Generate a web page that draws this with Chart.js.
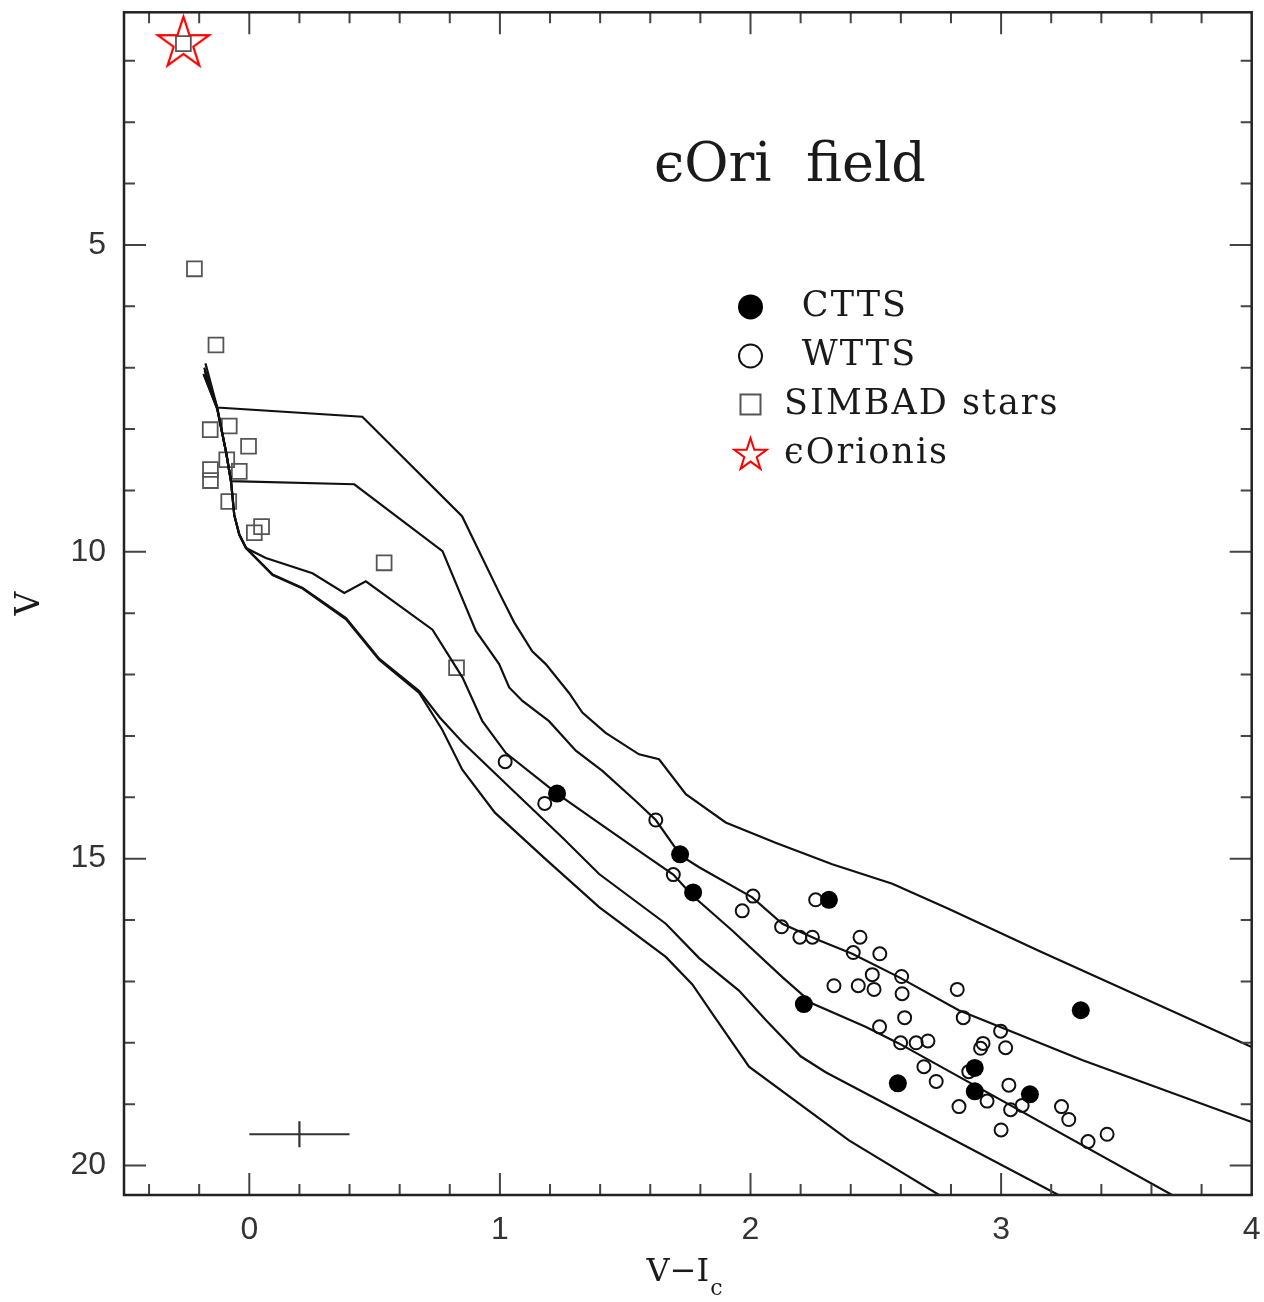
<!DOCTYPE html>
<html>
<head>
<meta charset="utf-8">
<title>eps Ori field CMD</title>
<script src="https://cdn.jsdelivr.net/npm/chart.js@4.4.1/dist/chart.umd.min.js"></script>
<style>
  html, body { margin: 0; padding: 0; background: #fff; }
  #cmd { display: block; }
</style>
</head>
<body>
<canvas id="cmd" width="1264" height="1302"></canvas>
<script>
// --- data (V-Ic colour, V magnitude) ---
const cttsVI = [1.228, 1.719, 1.771, 2.313, 2.213, 3.318, 2.895, 2.588, 2.895, 3.115];
const cttsV  = [13.94, 14.93, 15.55, 15.67, 17.37, 17.47, 18.41, 18.66, 18.79, 18.84];

const wttsVI = [1.021, 1.179, 1.622, 1.692, 2.010, 1.967, 2.124, 2.260, 2.197, 2.247,
                2.437, 2.410, 2.516, 2.486, 2.603, 2.333, 2.430, 2.493, 2.605, 2.615,
                2.515, 2.599, 2.661, 2.708, 2.825, 2.849, 2.998, 2.928, 2.918, 3.018,
                2.692, 2.741, 2.871, 3.031, 2.944, 2.832, 3.038, 3.084, 3.241, 3.270,
                3.000, 3.347, 3.423];
const wttsV  = [13.42, 14.10, 14.37, 15.26, 15.61, 15.85, 16.11, 15.67, 16.28, 16.28,
                16.28, 16.53, 16.55, 16.89, 16.92, 17.07, 17.07, 17.13, 17.20, 17.59,
                17.74, 18.00, 18.00, 17.97, 17.13, 17.59, 17.81, 18.01, 18.09, 18.08,
                18.39, 18.63, 18.47, 18.69, 18.95, 19.04, 19.09, 19.02, 19.04, 19.25,
                19.42, 19.61, 19.49];

const simbadVI = [-0.263, -0.219, -0.133, -0.156, -0.080, -0.003, -0.090, -0.040, -0.155, -0.155,
                  -0.082, 0.049, 0.020, 0.538, 0.827];
const simbadV  = [1.72, 5.39, 6.63, 8.01, 7.95, 8.28, 8.50, 8.69, 8.66, 8.84,
                  9.18, 9.59, 9.69, 10.18, 11.89];

const epsOriVI = [-0.263];
const epsOriV  = [1.72];

// isochrones, youngest first
const iso1VI = [-0.175, -0.128, 0.451, 0.849, 1.0, 1.057, 1.129, 1.183, 1.276, 1.329, 1.422,
                1.555, 1.635, 1.742, 1.901, 2.100, 2.326, 2.566, 2.792, 3.15, 4.0];
const iso1V  = [6.93, 7.65, 7.80, 9.42, 10.69, 11.15, 11.62, 11.83, 12.30, 12.62, 12.95,
                13.30, 13.38, 13.95, 14.41, 14.74, 15.09, 15.41, 15.82, 16.50, 18.07];

const iso2VI = [-0.18, -0.128, -0.093, -0.073, 0.419, 0.771, 0.904, 0.997, 1.037, 1.090, 1.196,
                1.303, 1.409, 1.542, 1.622, 1.722, 1.795, 2.007, 2.127, 2.273, 2.406, 2.592,
                2.831, 3.323, 4.0];
const iso2V  = [7.0, 7.65, 8.37, 8.85, 8.90, 9.99, 11.29, 11.83, 12.21, 12.43, 12.76,
                13.24, 13.57, 14.06, 14.37, 14.95, 15.14, 15.63, 16.06, 16.33, 16.55, 16.93,
                17.47, 18.28, 19.29];

const iso3VI = [-0.178, -0.128, -0.093, -0.073, -0.06, -0.04, -0.013, 0.066, 0.252, 0.379, 0.465,
                0.731, 0.851, 0.93, 1.024, 1.228, 1.396, 1.582, 1.692, 1.768, 1.927, 2.127,
                2.247, 2.459, 2.592, 3.696];
const iso3V  = [7.05, 7.66, 8.37, 8.85, 9.40, 9.72, 9.94, 10.10, 10.35, 10.67, 10.48,
                11.27, 12.05, 12.76, 13.28, 13.94, 14.42, 14.95, 15.26, 15.6, 16.17, 16.93,
                17.36, 17.74, 18.01, 20.51];

const iso4VI = [-0.183, -0.128, -0.093, -0.073, -0.06, -0.04, -0.013, 0.093, 0.213, 0.386, 0.518,
                0.678, 0.76, 0.85, 1.05, 1.25, 1.396, 1.662, 1.795, 1.954, 2.061, 2.20, 2.30, 3.243];
const iso4V  = [7.1, 7.67, 8.37, 8.85, 9.40, 9.72, 9.94, 10.37, 10.59, 11.08, 11.74,
                12.27, 12.7, 13.1, 13.88, 14.66, 15.25, 16.06, 16.62, 17.15, 17.63, 18.22, 18.48, 20.51];

const iso5VI = [-0.18, -0.128, -0.093, -0.073, -0.06, -0.04, -0.013, 0.093, 0.213, 0.386, 0.518,
                0.678, 0.77, 0.85, 0.98, 1.18, 1.396, 1.662, 1.768, 1.86, 1.994, 2.393, 2.765];
const iso5V  = [7.12, 7.67, 8.37, 8.85, 9.40, 9.72, 9.94, 10.38, 10.6, 11.1, 11.76,
                12.3, 12.9, 13.55, 14.25, 15.0, 15.79, 16.6, 17.05, 17.6, 18.39, 19.59, 20.51];

// typical error bar
const errVI = [0, 0.4];
const errV  = [19.49, 19.49];
const errCentreVI = [0.2, 0.2];
const errCentreV  = [19.28, 19.70];

const xTickLabels = [0, 1, 2, 3, 4];
const yTickLabels = [5, 10, 15, 20];

const legendLabels = ['CTTS', 'WTTS', 'SIMBAD stars', 'ϵOrionis'];
const titleText = 'ϵOri  field';

// helpers
function pts(xs, ys) {
  return xs.map((v, i) => ({ x: v, y: ys[i] }));
}

function starPath(g, cx, cy, R) {
  g.beginPath();
  for (let i = 0; i < 10; i++) {
    const r = i % 2 ? R * 0.382 : R;
    const a = -Math.PI / 2 + i * Math.PI / 5;
    g.lineTo(cx + r * Math.cos(a), cy + r * Math.sin(a));
  }
  g.closePath();
}

function starCanvas(R, color, lw) {
  const c = document.createElement('canvas');
  const s = Math.ceil(2 * R + 2 * lw + 4);
  c.width = s; c.height = s;
  const g = c.getContext('2d');
  starPath(g, s / 2, s / 2, R);
  g.strokeStyle = color;
  g.lineWidth = lw;
  g.stroke();
  return c;
}

// axis boxes are sized by hand so the plot frame lands where the original is
function fixBox(size) {
  return s => {
    if (s.isHorizontal()) s.height = size; else s.width = size;
    s.paddingTop = 0; s.paddingBottom = 0; s.paddingLeft = 0; s.paddingRight = 0;
  };
}

const lineStyle = {
  showLine: true, pointRadius: 0, borderColor: '#111', borderWidth: 2.2,
  fill: false, tension: 0, order: 4
};

// inward ticks on all four sides, plus the frame
const framePlugin = {
  id: 'frame',
  afterDraw(chart) {
    const { ctx, chartArea: a, scales: { x, y } } = chart;
    ctx.save();
    ctx.strokeStyle = '#444';
    ctx.lineWidth = 2;
    ctx.beginPath();
    for (let k = -2; k <= 19; k++) {
      const v = k * 0.2;
      const len = k % 5 === 0 ? 22 : 11;
      const px = x.getPixelForValue(v);
      ctx.moveTo(px, a.bottom); ctx.lineTo(px, a.bottom - len);
      ctx.moveTo(px, a.top); ctx.lineTo(px, a.top + len);
    }
    for (let v = 2; v <= 20; v++) {
      const len = v % 5 === 0 ? 22 : 11;
      const py = y.getPixelForValue(v);
      ctx.moveTo(a.left, py); ctx.lineTo(a.left + len, py);
      ctx.moveTo(a.right, py); ctx.lineTo(a.right - len, py);
    }
    ctx.stroke();
    ctx.strokeStyle = '#222';
    ctx.lineWidth = 2.5;
    ctx.strokeRect(a.left, a.top, a.right - a.left, a.bottom - a.top);
    ctx.restore();
  }
};

// title, legend and axis titles
const labelPlugin = {
  id: 'labels',
  afterDraw(chart) {
    const { ctx, chartArea: a, scales: { x, y } } = chart;
    ctx.save();
    ctx.fillStyle = '#1a1a1a';
    ctx.textBaseline = 'middle';
    ctx.textAlign = 'left';

    ctx.font = '54px "DejaVu Serif"';
    ctx.fillText(titleText, x.getPixelForValue(1.615), y.getPixelForValue(3.73));

    // legend
    const mx = x.getPixelForValue(2.0);
    const rows = [6.01, 6.81, 7.60, 8.40].map(v => y.getPixelForValue(v));
    ctx.fillStyle = '#000';
    ctx.beginPath(); ctx.arc(mx, rows[0], 12.5, 0, Math.PI * 2); ctx.fill();
    ctx.strokeStyle = '#111'; ctx.lineWidth = 2;
    ctx.beginPath(); ctx.arc(mx, rows[1], 11.5, 0, Math.PI * 2); ctx.stroke();
    ctx.strokeStyle = '#555'; ctx.lineWidth = 2;
    ctx.strokeRect(mx - 10, rows[2] - 10, 20, 20);
    ctx.strokeStyle = '#f00'; ctx.lineWidth = 2;
    starPath(ctx, mx, rows[3] + 1.5, 17);
    ctx.stroke();

    ctx.fillStyle = '#1a1a1a';
    ctx.font = '35px "DejaVu Serif"';
    ctx.letterSpacing = '2px';
    const tx1 = x.getPixelForValue(2.205);
    const tx2 = x.getPixelForValue(2.134);
    ctx.fillText(legendLabels[0], tx1, rows[0]);
    ctx.fillText(legendLabels[1], tx1, rows[1]);
    ctx.fillText(legendLabels[2], tx2, rows[2]);
    ctx.fillText(legendLabels[3], tx2, rows[3]);
    ctx.letterSpacing = '0px';

    // y axis title
    ctx.font = '33px "DejaVu Serif"';
    ctx.save();
    ctx.translate(30, (a.top + a.bottom) / 2);
    ctx.rotate(-Math.PI / 2);
    ctx.textAlign = 'center';
    ctx.fillText('V', 0, 0);
    ctx.restore();

    // x axis title V-Ic
    ctx.font = '32px "DejaVu Serif"';
    const main = 'V\u2212I';
    const w = ctx.measureText(main).width;
    const cx = (a.left + a.right) / 2 - 4;
    const x0 = cx - (w + 12) / 2;
    ctx.fillText(main, x0, 1273);
    ctx.font = '22px "DejaVu Serif"';
    ctx.fillText('c', x0 + w + 1, 1289);
    ctx.restore();
  }
};

new Chart(document.getElementById('cmd'), {
  type: 'scatter',
  data: {
    datasets: [
      { label: 'SIMBAD stars', data: pts(simbadVI, simbadV), pointStyle: 'rect', pointRadius: 10.5,
        pointBorderColor: '#555', pointBackgroundColor: 'rgba(0,0,0,0)', pointBorderWidth: 1.8, order: 5 },
      Object.assign({ label: 'iso1', data: pts(iso1VI, iso1V) }, lineStyle),
      Object.assign({ label: 'iso2', data: pts(iso2VI, iso2V) }, lineStyle),
      Object.assign({ label: 'iso3', data: pts(iso3VI, iso3V) }, lineStyle),
      Object.assign({ label: 'iso4', data: pts(iso4VI, iso4V) }, lineStyle),
      Object.assign({ label: 'iso5', data: pts(iso5VI, iso5V) }, lineStyle),
      Object.assign({ label: 'err', data: pts(errVI, errV) }, lineStyle, { borderColor: '#333' }),
      Object.assign({ label: 'err2', data: pts(errCentreVI, errCentreV) }, lineStyle, { borderColor: '#333' }),
      { label: 'WTTS', data: pts(wttsVI, wttsV), pointStyle: 'circle', pointRadius: 6.5,
        pointBorderColor: '#111', pointBackgroundColor: 'rgba(255,255,255,0)', pointBorderWidth: 2, order: 3 },
      { label: 'CTTS', data: pts(cttsVI, cttsV), pointStyle: 'circle', pointRadius: 9,
        pointBorderColor: '#000', pointBackgroundColor: '#000', pointBorderWidth: 0, order: 2 },
      { label: 'eps Ori', data: pts(epsOriVI, epsOriV), pointStyle: starCanvas(27, '#f00', 2.2), order: 1 }
    ]
  },
  options: {
    responsive: false,
    animation: false,
    events: [],
    layout: { padding: { top: 10, right: 11, left: 0, bottom: 0 } },
    plugins: { legend: { display: false }, tooltip: { enabled: false } },
    scales: {
      x: {
        type: 'linear', min: -0.5, max: 4,
        grid: { display: false, drawTicks: false },
        border: { display: false },
        afterBuildTicks: s => { s.ticks = xTickLabels.map(v => ({ value: v })); },
        afterFit: fixBox(107),
        ticks: { color: '#333', font: { family: 'Liberation Sans', size: 32 }, padding: 16,
                 maxRotation: 0, autoSkip: false, callback: v => String(v) }
      },
      y: {
        type: 'linear', reverse: true, min: 1.21, max: 20.48,
        grid: { display: false, drawTicks: false },
        border: { display: false },
        afterBuildTicks: s => { s.ticks = yTickLabels.map(v => ({ value: v })); },
        afterFit: fixBox(124),
        ticks: { color: '#333', font: { family: 'Liberation Sans', size: 32 }, padding: 18,
                 autoSkip: false, callback: v => String(v) }
      }
    }
  },
  plugins: [framePlugin, labelPlugin]
});
</script>
</body>
</html>
